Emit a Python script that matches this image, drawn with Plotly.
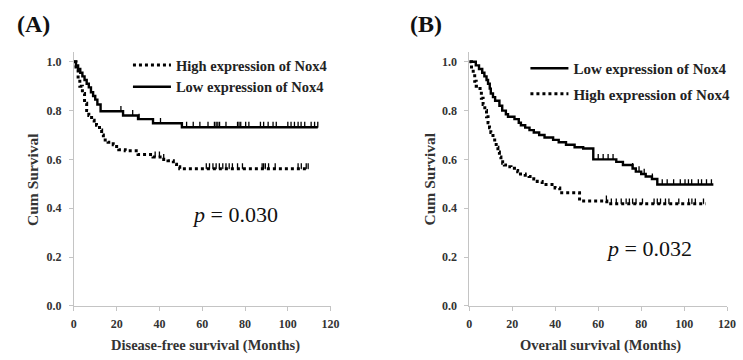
import numpy as np
import plotly.graph_objects as go

# ---------------- data ----------------
# Panel A: Disease-free survival
dfs_low_t = [0, 1, 2, 3, 4, 5, 6, 7, 8, 9, 10, 11, 12.5, 23, 30, 37, 50.5, 114]
dfs_low_s = [1.0, 0.985, 0.97, 0.955, 0.94, 0.925, 0.91, 0.895, 0.875, 0.86, 0.845, 0.825, 0.797,
             0.78, 0.765, 0.748, 0.732, 0.732]
dfs_low_cens = [22, 27.5, 30.5, 40.5, 52.7, 55.8, 58.9, 62.7, 65.7, 66.5, 67.3, 68.1, 71.1, 76.5,
                77.2, 78.0, 80.3, 81.8, 87.2, 88.7, 90.8, 93.1, 94.6, 100.0, 101.5, 103.1, 104.8,
                106.2, 107.9, 110.9, 112.5, 114.0]

dfs_high_t = [0, 1, 2, 2.8, 4, 5, 6, 7, 8.3, 9.5, 10.6, 12, 13, 13.8, 16, 18.4, 20, 21, 24, 30,
              37, 42, 44, 46.5, 48, 49.5, 109.5]
dfs_high_s = [1.0, 0.97, 0.93, 0.90, 0.87, 0.83, 0.80, 0.78, 0.76, 0.75, 0.74, 0.72, 0.70, 0.68,
              0.67, 0.66, 0.645, 0.64, 0.635, 0.62, 0.61, 0.60, 0.595, 0.58, 0.57, 0.562, 0.562]
dfs_high_cens = [38, 40, 42, 61.9, 63.4, 65, 66.5, 68, 69.6, 71.1, 72.6, 74.1, 76.5, 78.8, 88, 88.7,
                 89.5, 91, 94.1, 104.8, 106.3, 108.6, 109.5]

# Panel B: Overall survival
os_low_t = [0, 3, 4.5, 6, 7, 8, 8.7, 9.5, 10, 11, 12, 14, 15.3, 17, 18, 21, 23, 24, 26, 28, 30,
            32.5, 35, 39, 41.6, 45, 49, 53, 57.7, 68.4, 71.5, 76, 77.5, 80, 82.1, 85, 87.5, 113.6]
os_low_s = [1.0, 0.985, 0.97, 0.955, 0.94, 0.925, 0.91, 0.89, 0.87, 0.855, 0.84, 0.82, 0.80, 0.785,
            0.775, 0.765, 0.75, 0.74, 0.73, 0.72, 0.71, 0.70, 0.69, 0.68, 0.67, 0.66, 0.65, 0.645,
            0.60, 0.59, 0.577, 0.563, 0.55, 0.54, 0.53, 0.52, 0.497, 0.497]
os_low_cens = [60, 62.3, 64.6, 66.9, 76, 79, 81.4, 85.2, 89.8, 92.1, 95.1, 98.2, 100.4, 102, 103.5,
               106.6, 108.1, 110.4, 112.7]

os_high_t = [0, 1, 1.8, 2.5, 3.2, 4, 5, 5.6, 6.4, 7.2, 8, 8.7, 9.4, 10, 11, 11.8, 12.5, 13.3, 14,
             14.7, 15.5, 16.3, 18, 19.4, 21, 22.5, 23.8, 26, 27.8, 30, 31.6, 33.9, 39.9, 42.1,
             51.3, 64, 110]
os_high_s = [1.0, 0.97, 0.95, 0.92, 0.90, 0.89, 0.88, 0.85, 0.825, 0.80, 0.775, 0.75, 0.73, 0.71,
             0.69, 0.67, 0.65, 0.63, 0.61, 0.59, 0.584, 0.577, 0.57, 0.564, 0.555, 0.55, 0.54,
             0.535, 0.53, 0.52, 0.51, 0.497, 0.483, 0.463, 0.43, 0.418, 0.418]
os_high_cens = [63.8, 66.1, 68.4, 70.7, 73, 74.5, 76, 77.6, 80.6, 86, 87.5, 89, 91.3, 92.9, 97.5,
                102.1, 103.6, 105.2, 109]

x_ticks = [0, 20, 40, 60, 80, 100, 120]
y_ticks = [0.0, 0.2, 0.4, 0.6, 0.8, 1.0]
label_low = "Low expression of Nox4"
label_high = "High expression of Nox4"
p_a = "0.030"
p_b = "0.032"

# ---------------- helpers ----------------
def step_value(ts, ss, c):
    ts = np.asarray(ts)
    ss = np.asarray(ss)
    idx = np.searchsorted(ts, c, side="right") - 1
    return ss[np.clip(idx, 0, len(ss) - 1)]

SERIF = "Liberation Serif, Times New Roman, serif"
fig = go.Figure()

def add_curve(ts, ss, cens, name, dash, xa, ya, legend, rank):
    fig.add_trace(go.Scatter(
        x=ts, y=ss, mode="lines",
        line=dict(shape="hv", color="black", width=3 if dash == "dot" else 2.4, dash=dash),
        name=name, xaxis=xa, yaxis=ya, legend=legend, legendrank=rank, legendgroup=name + legend,
        hoverinfo="skip"))
    # censor ticks: short vertical marks rising from the curve
    fig.add_trace(go.Scatter(
        x=cens, y=[float(step_value(ts, ss, c)) for c in cens], mode="markers",
        marker=dict(size=1, color="black"),
        error_y=dict(type="constant", value=0.022, symmetric=False, valueminus=0,
                     width=0, thickness=1.3, color="black"),
        showlegend=False, xaxis=xa, yaxis=ya, hoverinfo="skip"))

add_curve(dfs_high_t, dfs_high_s, dfs_high_cens, label_high, "dot", "x", "y", "legend", 1)
add_curve(dfs_low_t, dfs_low_s, dfs_low_cens, label_low, "solid", "x", "y", "legend", 2)
add_curve(os_low_t, os_low_s, os_low_cens, label_low, "solid", "x2", "y2", "legend2", 1)
add_curve(os_high_t, os_high_s, os_high_cens, label_high, "dot", "x2", "y2", "legend2", 2)

W, H = 743, 360
axis_common = dict(
    showline=True, linecolor="#c4c4c4", linewidth=1, ticks="outside", ticklen=4,
    tickcolor="#c4c4c4", showgrid=False, zeroline=False,
    tickfont=dict(family=SERIF, size=12, color="#333", weight="bold"),
)
y_top = 1.04
fig.update_layout(
    width=W, height=H, margin=dict(l=0, r=0, t=0, b=0),
    paper_bgcolor="white", plot_bgcolor="white", showlegend=True,
    xaxis=dict(domain=[72 / W, 333 / W], range=[0, 120], tickvals=x_ticks, anchor="y",
               ticklabelstandoff=3, **axis_common),
    yaxis=dict(domain=[48 / H, (H - 53) / H], range=[0, y_top], tickvals=y_ticks, tickformat=".1f",
               anchor="x", ticklabelstandoff=5, **axis_common),
    xaxis2=dict(domain=[474 / W, 736 / W], range=[0, 120], tickvals=x_ticks, anchor="y2",
                ticklabelstandoff=3, **axis_common),
    yaxis2=dict(domain=[48 / H, (H - 53) / H], range=[0, y_top], tickvals=y_ticks, tickformat=".1f",
                anchor="x2", ticklabelstandoff=5, **axis_common),
    legend=dict(x=127 / W, y=1 - 50 / H, xanchor="left", yanchor="top", bgcolor="rgba(0,0,0,0)",
                font=dict(family=SERIF, size=14.5, color="#222", weight="bold"),
                traceorder="grouped", tracegroupgap=0, itemwidth=38),
    legend2=dict(x=531 / W, y=1 - 53 / H, xanchor="left", yanchor="top", bgcolor="rgba(0,0,0,0)",
                 font=dict(family=SERIF, size=15, color="#222", weight="bold"),
                 traceorder="grouped", tracegroupgap=3, itemwidth=38),
)

ann = []
def txt(text, x, y, size, weight="bold", xref="paper", yref="paper", angle=0, xanchor="center", color="#222"):
    ann.append(dict(text=text, x=x, y=y, xref=xref, yref=yref, showarrow=False, textangle=angle,
                    xanchor=xanchor, yanchor="middle",
                    font=dict(family=SERIF, size=size, color=color, weight=weight)))

txt("(A)", 12 / W, 1 - 24 / H, 24, xanchor="left", color="#111")
txt("(B)", 412 / W, 1 - 24 / H, 24, xanchor="left", color="#111")
txt("Disease-free survival (Months)", 205.5 / W, 1 - 352 / H, 14.5, color="#333")
txt("Overall survival (Months)", 607 / W, 1 - 352 / H, 14.5, color="#333")
txt("Cum Survival", 30 / W, 1 - 183 / H, 15.5, angle=-90, color="#333")
txt("Cum Survival", 433 / W, 1 - 183 / H, 15.5, angle=-90, color="#333")
txt("<i>p</i> = " + p_a, 75.5, 0.373, 22, weight="normal", xref="x", yref="y", color="#111")
txt("<i>p</i> = " + p_b, 83.5, 0.237, 22, weight="normal", xref="x2", yref="y2", color="#111")
fig.update_layout(annotations=ann)

fig.write_html("out.html")
